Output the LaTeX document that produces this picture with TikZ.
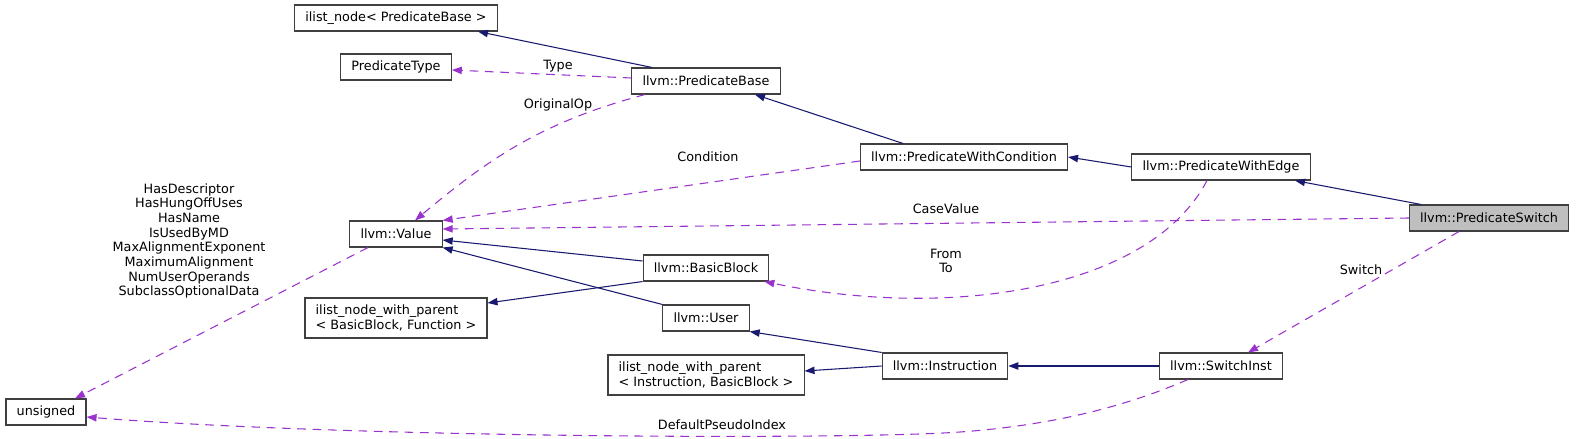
\documentclass[tikz,border=0pt]{standalone}
\usepackage{fontspec}
\setmainfont{DejaVu Sans}
\usetikzlibrary{positioning,arrows.meta}
\definecolor{inhblue}{HTML}{191970}
\definecolor{usepurple}{HTML}{9A32CD}
\definecolor{boxline}{HTML}{404040}
\definecolor{boxfill}{HTML}{BFBFBF}
\tikzset{
  cls/.style={rectangle, draw=boxline, fill=white, line width=0.8pt,
              minimum height=19.5pt, inner xsep=8pt, inner ysep=2pt, align=left,
              font=\fontsize{9.6}{11}\selectfont},
  cls2/.style={cls, minimum height=30pt},
  lbl/.style={inner sep=0pt, align=center, font=\fontsize{9.6}{11}\selectfont},
  inh/.style={-{Triangle[length=7.5pt,width=5.5pt]}, line width=0.8pt, draw=inhblue},
  usage/.style={-{Triangle[length=7.5pt,width=5.5pt]}, line width=0.8pt, draw=usepurple,
                dash pattern=on 6.5pt off 5pt},
}

\begin{document}
\begin{tikzpicture}[x=0.75pt, y=-0.75pt]
    \useasboundingbox (0,0) rectangle (1579,439);
    \node[cls] (ilpb) at (396,18) {ilist\_node< PredicateBase >};
    \node[cls] (ptype) at (396,67) {PredicateType};
    \node[cls] (value) at (396,234) {llvm::Value};
    \node[cls2] (ilbb) at (396,318) {ilist\_node\_with\_parent\\< BasicBlock, Function >};
    \node[cls] (unsig) at (46,412) {unsigned};
    \node[cls] (pbase) at (706,81) {llvm::PredicateBase};
    \node[cls] (bblock) at (706,268) {llvm::BasicBlock};
    \node[cls] (user) at (706,318) {llvm::User};
    \node[cls2] (ilin) at (706,375) {ilist\_node\_with\_parent\\< Instruction, BasicBlock >};
    \node[cls] (pcond) at (964,157) {llvm::PredicateWithCondition};
    \node[cls] (instr) at (945,366) {llvm::Instruction};
    \node[cls] (pedge) at (1221,167) {llvm::PredicateWithEdge};
    \node[cls] (swinst) at (1221,366) {llvm::SwitchInst};
    \node[cls, fill=boxfill] (pswitch) at (1489,218) {llvm::PredicateSwitch};

    \node[lbl] (ltype) at (558,66) {Type};
    \node[lbl] (lorig) at (558,105) {OriginalOp};
    \node[lbl] (lcond) at (708,157) {Condition};
    \node[lbl] (lcase) at (946,209) {CaseValue};
    \node[lbl] (lfrom) at (946,261) {From\\To};
    \node[lbl] (lswitch) at (1361,270) {Switch};
    \node[lbl] (lflags) at (189,241) {HasDescriptor\\HasHungOffUses\\HasName\\IsUsedByMD\\MaxAlignmentExponent\\MaximumAlignment\\NumUserOperands\\SubclassOptionalData};
    \node[lbl] (ldefault) at (722,425) {DefaultPseudoIndex};

    \draw[inh] ([xshift=-40.5pt]pbase.north) -- ([xshift=61.5pt]ilpb.south);
    \draw[inh] ([xshift=-45.75pt]pcond.north) -- ([xshift=36.75pt]pbase.south);
    \draw[inh] (pedge.west) -- (pcond.east);
    \draw[inh] ([xshift=-51pt]pswitch.north) -- ([xshift=55.5pt]pedge.south);
    \draw[inh] ([yshift=5.25pt]bblock.west) -- ([yshift=-4.5pt]value.east);
    \draw[inh] (bblock.south west) -- ([yshift=11.25pt]ilbb.east);
    \draw[inh] (user.north west) -- (value.south east);
    \draw[inh] (instr.north west) -- (user.south east);
    \draw[inh] (instr.west) -- ([yshift=3pt]ilin.east);
    \draw[inh] (swinst.west) -- (instr.east);

    \draw[usage] ([yshift=2.25pt]pbase.west) -- ([yshift=-2.25pt]ptype.east);
    \draw[usage] ([xshift=-45.75pt]pbase.south) to[out=195,in=40] ([xshift=14.25pt]value.north);
    \draw[usage] ([yshift=-3pt]pcond.west) -- (value.north east);
    \draw[usage] (pswitch.west) -- ([yshift=3.75pt]value.east);
    \draw[usage] ([xshift=-10.5pt]pedge.south) .. controls (1150,290) and (950,320) .. ([xshift=-3.75pt]bblock.south east);
    \draw[usage] ([xshift=-22.5pt]pswitch.south) -- ([xshift=20.25pt]swinst.north);
    \draw[usage] ([xshift=-21pt]value.south) -- ([xshift=21.75pt]unsig.north);
    \draw[usage] ([xshift=-24.75pt]swinst.south) .. controls (1140,400) and (1070,424) .. (960,432)
      .. controls (850,440) and (350,438) .. ([yshift=-3.75pt]unsig.east);
  \end{tikzpicture}
\end{document}
